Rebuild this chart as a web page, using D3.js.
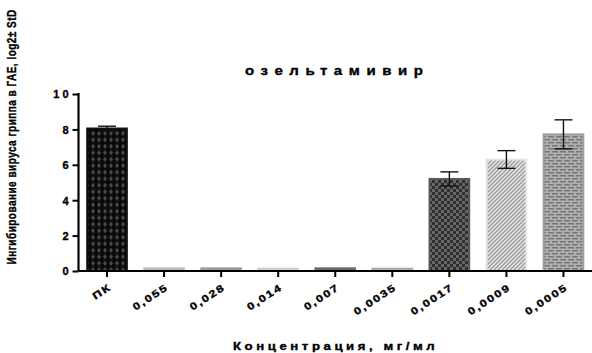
<!DOCTYPE html>
<html><head><meta charset="utf-8">
<script src="https://cdn.jsdelivr.net/npm/d3@7"></script>
<style>body{margin:0;background:#fff}svg{display:block}text{font-family:"Liberation Sans",Arial,sans-serif;font-weight:bold;stroke:#000;stroke-width:0.35px;fill:#000}</style>
</head><body>
<svg id="c" width="592" height="353"></svg>
<script>
const categories = ["ПК","0,055","0,028","0,014","0,007","0,0035","0,0017","0,0009","0,0005"];
const values = [8.05, 0.15, 0.15, 0.13, 0.15, 0.13, 5.2, 6.3, 7.72];
const errors = [0.13, null, null, null, null, null, 0.4, 0.5, 0.82];
const yTicks = [0, 2, 4, 6, 8, 10];
const fills = ["url(#pDiamond)","#bdbdbd","#9a9a9a","#cfcfcf","#6a6a6a","#ababab","url(#pChecker)","url(#pHatch)","url(#pBrick)"];
const strokes = ["#111","#bdbdbd","#9a9a9a","#cfcfcf","#6a6a6a","#ababab","#5a5a5a","#e6e6e6","#a0a0a0"];
const title = "озельтамивир";
const xTitle = "Концентрация, мг/мл";
const yTitle = "Ингибирование вируса гриппа в ГАЕ, log2± StD";

const svg = d3.select("#c");
const defs = svg.append("defs");
let p = defs.append("pattern").attr("id","pDiamond").attr("patternUnits","userSpaceOnUse").attr("width",6).attr("height",6.5);
p.append("rect").attr("width",6).attr("height",6.5).attr("fill","#0a0a0a");
p.append("path").attr("d","M3,0.8 L5,3.25 L3,5.7 L1,3.25Z").attr("fill","#4a4a4a");
p = defs.append("pattern").attr("id","pChecker").attr("patternUnits","userSpaceOnUse").attr("width",6).attr("height",6);
p.append("rect").attr("width",6).attr("height",6).attr("fill","#676767");
p.append("rect").attr("width",3).attr("height",3).attr("fill","#2e2e2e");
p.append("rect").attr("x",3).attr("y",3).attr("width",3).attr("height",3).attr("fill","#2e2e2e");
p = defs.append("pattern").attr("id","pHatch").attr("patternUnits","userSpaceOnUse").attr("width",4).attr("height",4);
p.append("rect").attr("width",4).attr("height",4).attr("fill","#e8e8e8");
p.append("path").attr("d","M-1,5 L5,-1 M3,5 L5,3 M-1,1 L1,-1").attr("stroke","#9a9a9a").attr("stroke-width",1.3);
p = defs.append("pattern").attr("id","pBrick").attr("patternUnits","userSpaceOnUse").attr("width",8).attr("height",6);
p.append("rect").attr("width",8).attr("height",6).attr("fill","#b0b0b0");
p.append("rect").attr("x",0).attr("y",1).attr("width",6).attr("height",1.5).attr("fill","#777");
p.append("rect").attr("x",4).attr("y",4).attr("width",6).attr("height",1.5).attr("fill","#777");
p.append("rect").attr("x",-4).attr("y",4).attr("width",6).attr("height",1.5).attr("fill","#777");

const x = d3.scaleBand().domain(categories).range([78.5, 592]).paddingInner(0.27).paddingOuter(0.135);
const y = d3.scaleLinear().domain([0, 10]).range([271, 94]);

svg.append("g").selectAll("rect").data(categories).join("rect")
  .attr("x", d => x(d)+1).attr("width", x.bandwidth()-2)
  .attr("y", (d,i) => y(values[i])).attr("height", (d,i) => y(0)-y(values[i]))
  .attr("fill", (d,i) => fills[i]).attr("stroke", (d,i) => strokes[i]).attr("stroke-width", 2);

const eg = svg.append("g").attr("stroke","#111").attr("stroke-width",1.4).attr("fill","none");
categories.forEach((c,i) => {
  if (errors[i] == null) return;
  const cx = x(c) + x.bandwidth()/2;
  const y1 = y(values[i]+errors[i]), y2 = y(values[i]-errors[i]);
  eg.append("line").attr("x1",cx).attr("x2",cx).attr("y1",y1).attr("y2",y2);
  eg.append("line").attr("x1",cx-9).attr("x2",cx+9).attr("y1",y1).attr("y2",y1);
  eg.append("line").attr("x1",cx-9).attr("x2",cx+9).attr("y1",y2).attr("y2",y2);
});

const yAxis = svg.append("g").attr("transform","translate(78.5,0)")
  .call(d3.axisLeft(y).tickValues(yTicks).tickSize(6).tickPadding(4).tickFormat(d => String(d).split("").join(" ")));
yAxis.select(".domain").attr("stroke","#000").attr("stroke-width",2.2).attr("d","M0,271V93");
yAxis.selectAll(".tick line").attr("stroke","#000").attr("stroke-width",2);
yAxis.selectAll(".tick text").attr("font-size",11).attr("font-family","Liberation Sans, Arial").attr("font-weight","bold").attr("fill","#000").attr("dy","0.35em");

const xAxis = svg.append("g").attr("transform","translate(0,271)")
  .call(d3.axisBottom(x).tickSize(6).tickSizeOuter(0));
xAxis.select(".domain").attr("stroke","#000").attr("stroke-width",2.2).attr("d","M78.5,0H592");
xAxis.selectAll(".tick line").attr("stroke","#000").attr("stroke-width",2);
xAxis.selectAll(".tick text").attr("font-size",10).attr("font-family","Liberation Sans, Arial").attr("font-weight","bold").attr("fill","#000")
  .attr("letter-spacing","1.4px")
  .attr("text-anchor","end").attr("dy",0).attr("y",0)
  .attr("transform","translate(5,18) rotate(-33) scale(1.25,1)");

function fitted(str, cx, cy, rot, size, sx, target, ls0) {
  const g = svg.append("g");
  const t = g.append("text").attr("font-size",size).attr("text-anchor","start").text(str);
  const w = t.node().getComputedTextLength();
  const n = str.length;
  let ls;
  if (sx == null) { ls = ls0; sx = target / (w + ls*(n-1)); }
  else { ls = (target/sx - w) / (n-1); }
  t.attr("letter-spacing", ls);
  const w2 = w + ls*(n-1);
  t.attr("x", -w2/2);
  g.attr("transform",`translate(${cx},${cy}) rotate(${rot}) scale(${sx},1)`);
  return t;
}
fitted(title, 334, 75, 0, 12.5, 1.2, 178);
fitted(xTitle, 334, 350, 0, 11, 1.2, 202);
fitted(yTitle, 16, 137, -90, 12.5, null, 255, 0.6);
</script>
</body></html>
